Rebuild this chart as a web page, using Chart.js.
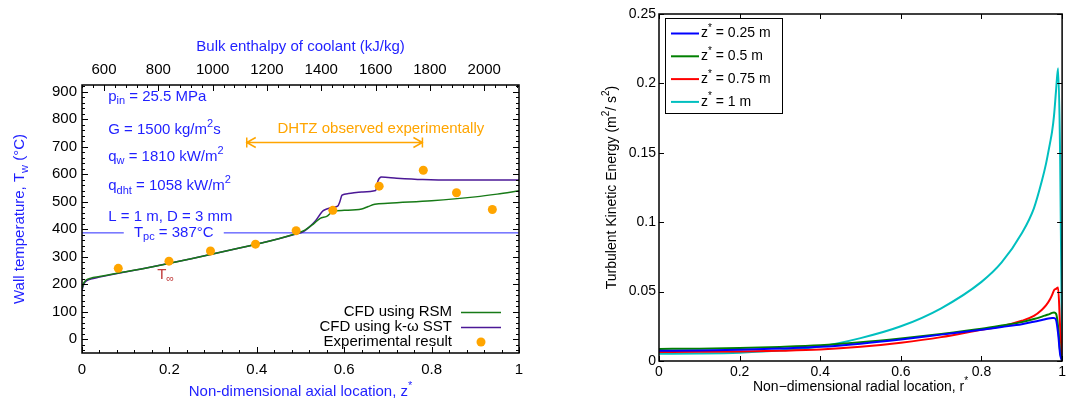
<!DOCTYPE html>
<html lang="en">
<head>
<meta charset="UTF-8">
<title>Wall temperature and turbulent kinetic energy</title>
<script src="https://cdn.jsdelivr.net/npm/chart.js"></script>
<style>
  body, html { margin: 0; padding: 0; background: #fff; }
  #wrap { position: relative; width: 1069px; height: 402px; }
  #leftChart { position: absolute; left: 0; top: 0; }
  #rightChart { position: absolute; left: 560px; top: 0; }
</style>
</head>
<body>
<div id="wrap">
  <canvas id="leftChart" width="540" height="402"></canvas>
  <canvas id="rightChart" width="509" height="402"></canvas>
</div>
<script>
// ---- data: left chart (wall temperature along the tube) ----
const rsmZ = [0, 0.004, 0.01, 0.02, 0.04, 0.08, 0.15, 0.25, 0.35, 0.45, 0.49, 0.51, 0.53, 0.545, 0.56, 0.575, 0.6, 0.64, 0.655, 0.67, 0.7, 0.8, 0.9, 0.95, 1];
const rsmT = [185, 205, 216, 222, 228, 240, 260, 293, 328, 366, 385, 397, 420, 440, 447, 466, 469, 474, 483, 491, 495, 504, 518, 528, 540];
const sstZ = [0, 0.004, 0.01, 0.02, 0.04, 0.08, 0.15, 0.25, 0.35, 0.45, 0.49, 0.505, 0.52, 0.535, 0.545, 0.552, 0.56, 0.575, 0.585, 0.59, 0.595, 0.61, 0.64, 0.672, 0.677, 0.685, 0.72, 0.78, 0.85, 1];
const sstT = [178, 200, 212, 219, 226, 239, 260, 293, 328, 366, 383, 390, 408, 432, 455, 468, 474, 480, 484, 500, 524, 530, 536, 541, 575, 590, 586, 581, 579, 579];
const expZ = [0.083, 0.199, 0.294, 0.397, 0.490, 0.574, 0.680, 0.781, 0.857, 0.939];
const expT = [258, 284, 321, 346, 395, 469, 557, 615, 533, 472];
const tpc = 387;
const zTicks = [0, 0.2, 0.4, 0.6, 0.8, 1];
const tempTicks = [0, 100, 200, 300, 400, 500, 600, 700, 800, 900];
const enthalpyTicks = [600, 800, 1000, 1200, 1400, 1600, 1800, 2000];
const dhtzRange = [0.377, 0.779];

// ---- data: right chart (turbulent kinetic energy across the radius) ----
const rPos = [0, 0.1, 0.2, 0.3, 0.4, 0.5, 0.6, 0.7, 0.8, 0.85, 0.9, 0.93, 0.95, 0.96, 0.97, 0.975, 0.98, 0.985, 0.99, 0.995, 1];
const tke025 = [0.0074, 0.0076, 0.0081, 0.009, 0.0102, 0.0125, 0.0155, 0.019, 0.0225, 0.0245, 0.0265, 0.0283, 0.0295, 0.0302, 0.0308, 0.031, 0.031, 0.0295, 0.02, 0.005, 0];
const tke05  = [0.0087, 0.0089, 0.0093, 0.0101, 0.0113, 0.0135, 0.0163, 0.0195, 0.0232, 0.0255, 0.028, 0.0302, 0.032, 0.033, 0.034, 0.0347, 0.035, 0.034, 0.025, 0.007, 0];
const tke075 = [0.0065, 0.0066, 0.0068, 0.0073, 0.0082, 0.0102, 0.0132, 0.0172, 0.0225, 0.025, 0.029, 0.0325, 0.037, 0.04, 0.0445, 0.0475, 0.051, 0.052, 0.053, 0.025, 0];
const tke1   = [0.0052, 0.0054, 0.006, 0.0075, 0.0105, 0.0165, 0.025, 0.038, 0.057, 0.071, 0.092, 0.11, 0.13, 0.142, 0.157, 0.165, 0.177, 0.195, 0.211, 0.15, 0];
const zStations = ['0.25', '0.5', '0.75', '1'];
const rTicks = [0, 0.2, 0.4, 0.6, 0.8, 1];
const tkeTicks = [0, 0.05, 0.1, 0.15, 0.2, 0.25];

const FONT = '"Liberation Sans", Arial, Helvetica, sans-serif';
const BLUE = '#1f1fff';
const ORANGE = '#ffa500';

const pairs = (xs, ys) => xs.map((v, i) => ({ x: v, y: ys[i] }));

// draws text made of pieces: [text, ''|'sub'|'sup'], centred vertically on y
function richText(ctx, parts, x, y, o) {
  const size = o.size || 15;
  const small = Math.round(size * 0.72);
  let w = 0;
  const widths = parts.map(([t, k]) => {
    ctx.font = (k ? small : size) + 'px ' + FONT;
    const ww = ctx.measureText(t).width;
    w += ww;
    return ww;
  });
  ctx.save();
  ctx.translate(x, y);
  if (o.rot) ctx.rotate(o.rot);
  let cx = o.align === 'center' ? -w / 2 : (o.align === 'right' ? -w : 0);
  ctx.fillStyle = o.color || '#000';
  ctx.textBaseline = 'middle';
  ctx.textAlign = 'left';
  parts.forEach(([t, k], i) => {
    ctx.font = (k ? small : size) + 'px ' + FONT;
    const dy = k === 'sub' ? size * 0.3 : (k === 'sup' ? -size * 0.38 : 0);
    ctx.fillText(t, cx, dy);
    cx += widths[i];
  });
  ctx.restore();
  return w;
}

function range(min, max, step) {
  const out = [];
  for (let v = Math.ceil(min / step - 1e-9); v * step <= max + 1e-9; v++) out.push(+(v * step).toFixed(6));
  return out;
}

// inward tick marks on one edge of the chart area
function edgeTicks(ctx, scale, values, len, side, a) {
  ctx.beginPath();
  values.forEach(v => {
    if (v < scale.min - 1e-9 || v > scale.max + 1e-9) return;
    const p = Math.round(scale.getPixelForValue(v)) + 0.5;
    if (side === 'bottom') { ctx.moveTo(p, a.bottom); ctx.lineTo(p, a.bottom - len); }
    if (side === 'top') { ctx.moveTo(p, a.top); ctx.lineTo(p, a.top + len); }
    if (side === 'left') { ctx.moveTo(a.left, p); ctx.lineTo(a.left + len, p); }
    if (side === 'right') { ctx.moveTo(a.right, p); ctx.lineTo(a.right - len, p); }
  });
  ctx.stroke();
}

function axis(extra) {
  return Object.assign({
    type: 'linear',
    grid: { display: false, drawTicks: false },
    border: { display: false }
  }, extra);
}
function tickOpts(pad, size) {
  return { color: '#000', font: { family: FONT, size: size }, maxRotation: 0, autoSkip: false, padding: pad, callback: v => String(v) };
}

// ---------------- left chart ----------------
const leftDecor = {
  id: 'leftDecor',
  afterDatasetsDraw(chart) {
    const { ctx, chartArea: a, scales: { x, y, x2 } } = chart;
    ctx.save();
    // Tpc label with white box over the line
    const lx = x.getPixelForValue(0.21), ly = y.getPixelForValue(tpc);
    ctx.fillStyle = '#fff';
    ctx.fillRect(lx - 50, ly - 9, 100, 18);
    richText(ctx, [['T', ''], ['pc', 'sub'], [' = ' + tpc + '°C', '']], lx, ly, { color: BLUE, align: 'center' });

    // condition notes
    const nx = x.getPixelForValue(0.06);
    richText(ctx, [['p', ''], ['in', 'sub'], [' = 25.5 MPa', '']], nx, y.getPixelForValue(882), { color: BLUE });
    richText(ctx, [['G = 1500 kg/m', ''], ['2', 'sup'], ['s', '']], nx, y.getPixelForValue(763), { color: BLUE });
    richText(ctx, [['q', ''], ['w', 'sub'], [' = 1810 kW/m', ''], ['2', 'sup']], nx, y.getPixelForValue(664), { color: BLUE });
    richText(ctx, [['q', ''], ['dht', 'sub'], [' = 1058 kW/m', ''], ['2', 'sup']], nx, y.getPixelForValue(557), { color: BLUE });
    richText(ctx, [['L = 1 m, D = 3 mm', '']], nx, y.getPixelForValue(446), { color: BLUE });
    richText(ctx, [['T', ''], ['\u221e', 'sub']], x.getPixelForValue(0.172), y.getPixelForValue(234), { color: '#c03a3a' });

    // DHTZ arrow
    const ax1 = x.getPixelForValue(dhtzRange[0]), ax2 = x.getPixelForValue(dhtzRange[1]);
    const ay = Math.round(y.getPixelForValue(718)) + 0.5;
    ctx.strokeStyle = ORANGE;
    ctx.lineWidth = 1.5;
    ctx.beginPath();
    ctx.moveTo(ax1, ay); ctx.lineTo(ax2, ay);
    ctx.moveTo(ax1 + 9, ay - 5); ctx.lineTo(ax1, ay); ctx.lineTo(ax1 + 9, ay + 5);
    ctx.moveTo(ax2 - 9, ay - 5); ctx.lineTo(ax2, ay); ctx.lineTo(ax2 - 9, ay + 5);
    ctx.moveTo(ax1, ay - 5); ctx.lineTo(ax1, ay + 5);
    ctx.moveTo(ax2, ay - 5); ctx.lineTo(ax2, ay + 5);
    ctx.stroke();
    richText(ctx, [['DHTZ observed experimentally', '']], x.getPixelForValue(0.684), y.getPixelForValue(767), { color: ORANGE, align: 'center' });

    // legend, bottom right
    const ds = chart.data.datasets;
    const tx = a.right - 67;
    [0, 1, 2].forEach((i, k) => {
      const ry = a.bottom - 41 + k * 15;
      richText(ctx, [[ds[i].label, '']], tx, ry, { align: 'right' });
      if (ds[i].showLine === false) {
        ctx.fillStyle = ds[i].backgroundColor;
        ctx.beginPath(); ctx.arc(tx + 29, ry, 4.5, 0, Math.PI * 2); ctx.fill();
      } else {
        ctx.strokeStyle = ds[i].borderColor; ctx.lineWidth = 1.5;
        ctx.beginPath(); ctx.moveTo(tx + 9, ry + 0.5); ctx.lineTo(tx + 49, ry + 0.5); ctx.stroke();
      }
    });

    // frame + tick marks
    ctx.strokeStyle = '#000';
    ctx.lineWidth = 1.5;
    ctx.strokeRect(a.left, a.top, a.width, a.height);
    ctx.lineWidth = 1;
    edgeTicks(ctx, x, zTicks, 6, 'bottom', a);
    edgeTicks(ctx, x, range(0, 1, 0.04), 3, 'bottom', a);
    edgeTicks(ctx, x2, enthalpyTicks, 6, 'top', a);
    edgeTicks(ctx, x2, range(x2.min, x2.max, 40), 3, 'top', a);
    ['left', 'right'].forEach(side => {
      edgeTicks(ctx, y, tempTicks, 6, side, a);
      edgeTicks(ctx, y, range(-40, 920, 20), 3, side, a);
    });

    // axis titles
    const cx = (a.left + a.right) / 2;
    richText(ctx, [['Bulk enthalpy of coolant (kJ/kg)', '']], cx, 47, { color: BLUE, align: 'center' });
    richText(ctx, [['Non-dimensional axial location, z', ''], ['*', 'sup']], cx, 392, { color: BLUE, align: 'center' });
    richText(ctx, [['Wall temperature, T', ''], ['w', 'sub'], [' (°C)', '']], 20, (a.top + a.bottom) / 2, { color: BLUE, align: 'center', rot: -Math.PI / 2 });
    ctx.restore();
  }
};

new Chart(document.getElementById('leftChart'), {
  type: 'line',
  data: {
    datasets: [
      { label: 'CFD using RSM', data: pairs(rsmZ, rsmT), borderColor: '#177a17', borderWidth: 1.5, pointRadius: 0, cubicInterpolationMode: 'monotone', order: 1 },
      { label: 'CFD using k-\u03c9 SST', data: pairs(sstZ, sstT), borderColor: '#4b1896', borderWidth: 1.5, pointRadius: 0, cubicInterpolationMode: 'monotone', order: 1 },
      { label: 'Experimental result', data: pairs(expZ, expT), showLine: false, backgroundColor: ORANGE, borderColor: ORANGE, pointRadius: 4.5, pointBorderWidth: 0, order: 0 },
      { label: 'Tpc', data: pairs([0, 1], [tpc, tpc]), borderColor: '#2a2aff', borderWidth: 1, pointRadius: 0, order: 2 }
    ]
  },
  options: {
    responsive: false,
    animation: false,
    devicePixelRatio: 1,
    layout: { padding: { left: 0, right: 21, top: 0, bottom: 0 } },
    plugins: { legend: { display: false }, tooltip: { enabled: false } },
    scales: {
      x: axis({
        position: 'bottom', min: 0, max: 1,
        afterBuildTicks: s => { s.ticks = zTicks.map(v => ({ value: v })); },
        afterFit: s => { s.height = 49; },
        ticks: tickOpts(8, 15)
      }),
      x2: axis({
        position: 'top', min: 519, max: 2128,
        afterBuildTicks: s => { s.ticks = enthalpyTicks.map(v => ({ value: v })); },
        afterFit: s => { s.height = 85; },
        ticks: tickOpts(6, 15)
      }),
      y: axis({
        position: 'left', min: -50, max: 925,
        afterBuildTicks: s => { s.ticks = tempTicks.map(v => ({ value: v })); },
        afterFit: s => { s.width = 82; },
        ticks: tickOpts(5, 15)
      })
    }
  },
  plugins: [leftDecor]
});

// ---------------- right chart ----------------
const rightDecor = {
  id: 'rightDecor',
  afterDatasetsDraw(chart) {
    const { ctx, chartArea: a, scales: { x, y } } = chart;
    ctx.save();
    ctx.strokeStyle = '#000';
    ctx.lineWidth = 1.5;
    ctx.strokeRect(a.left, a.top, a.width, a.height);
    ctx.lineWidth = 1;
    edgeTicks(ctx, x, rTicks, 5, 'bottom', a);
    edgeTicks(ctx, x, rTicks, 5, 'top', a);
    edgeTicks(ctx, y, tkeTicks, 5, 'left', a);
    edgeTicks(ctx, y, tkeTicks, 5, 'right', a);

    // legend box, top left
    const bx = a.left + 6, by = a.top + 4;
    ctx.fillStyle = '#fff';
    ctx.fillRect(bx, by, 117, 95);
    ctx.strokeStyle = '#000';
    ctx.lineWidth = 1;
    ctx.strokeRect(bx + 0.5, by + 0.5, 117, 95);
    chart.data.datasets.forEach((d, i) => {
      const ry = by + 15.5 + i * 22.8;
      ctx.strokeStyle = d.borderColor; ctx.lineWidth = 2;
      ctx.beginPath(); ctx.moveTo(bx + 6, ry); ctx.lineTo(bx + 34, ry); ctx.stroke();
      richText(ctx, [['z', ''], ['*', 'sup'], [' = ' + zStations[i] + ' m', '']], bx + 36, ry, { size: 14 });
    });

    // axis titles
    richText(ctx, [['Non\u2212dimensional radial location, r', ''], ['*', 'sup']], (a.left + a.right) / 2, 387, { align: 'center', size: 14 });
    richText(ctx, [['Turbulent Kinetic Energy (m', ''], ['2', 'sup'], ['/ s', ''], ['2', 'sup'], [')', '']], 52, (a.top + a.bottom) / 2, { align: 'center', rot: -Math.PI / 2, size: 14 });
    ctx.restore();
  }
};

const tkeSeries = [tke025, tke05, tke075, tke1];
const tkeColors = ['#0000ff', '#008000', '#ff0000', '#00bfbf'];

new Chart(document.getElementById('rightChart'), {
  type: 'line',
  data: {
    datasets: tkeSeries.map((vals, i) => ({
      label: 'z* = ' + zStations[i] + ' m',
      data: pairs(rPos, vals),
      borderColor: tkeColors[i],
      borderWidth: 2,
      pointRadius: 0,
      cubicInterpolationMode: 'monotone'
    }))
  },
  options: {
    responsive: false,
    animation: false,
    devicePixelRatio: 1,
    layout: { padding: { left: 0, right: 3, top: 14, bottom: 0 } },
    plugins: { legend: { display: false }, tooltip: { enabled: false } },
    scales: {
      x: axis({
        position: 'bottom', min: 0, max: 1,
        afterBuildTicks: s => { s.ticks = rTicks.map(v => ({ value: v })); },
        afterFit: s => { s.height = 41; },
        ticks: tickOpts(3, 14)
      }),
      y: axis({
        position: 'left', min: 0, max: 0.25,
        afterBuildTicks: s => { s.ticks = tkeTicks.map(v => ({ value: v })); },
        afterFit: s => { s.width = 99; },
        ticks: tickOpts(3, 14)
      })
    }
  },
  plugins: [rightDecor]
});
</script>
</body>
</html>
